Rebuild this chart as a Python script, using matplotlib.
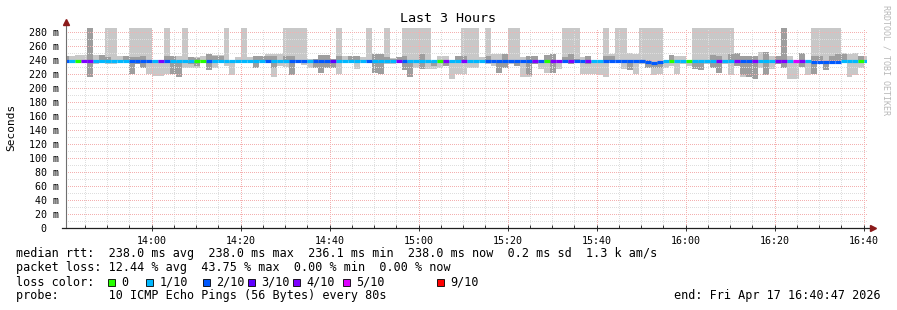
import numpy as np
import matplotlib.pyplot as plt
from matplotlib.patches import Rectangle

nan = np.nan
W, H = 897, 310

# one value per 80 s step, ms (300 = off the top)
light_hi = [244, 246, 247, 247, 247, 247, 247, 300, 300, 245,
            245, 300, 300, 300, 300, 239, 239, 300, 246, 246,
            300, 244, 244, 245, 246, 247, 247, 300, 239, 244,
            300, 244, 246, 246, 249, 249, 249, 300, 300, 300,
            300, 242, 242, 247, 247, 242, 300, 246, 246, 246,
            244, 300, 249, 248, 300, 243, 244, 300, 300, 300,
            300, 300, 238, 246, 246, 239, 246, 300, 300, 300,
            244, 300, 248, 248, 249, 300, 300, 244, 246, 246,
            239, 247, 249, 238, 300, 300, 300, 244, 246, 239,
            239, 300, 248, 300, 300, 250, 249, 300, 300, 300,
            300, 239, 247, 246, 245, 239, 300, 300, 300, 300,
            300, 300, 300, 250, 246, 245, 245, 252, 252, 245,
            246, 300, 246, 239, 250, 239, 300, 300, 300, 300,
            300, 250, 248, 250, 245, 245]
light_lo = [237, 235, 237, 237, 237, 234, 235, 234, 234, 239,
            238, 220, 234, 229, 220, 217, 217, 220, 220, 216,
            229, 229, 228, 239, 225, 229, 239, 232, 218, 235,
            239, 239, 228, 238, 238, 216, 232, 230, 218, 239,
            233, 228, 229, 221, 229, 229, 220, 239, 239, 227,
            239, 239, 222, 220, 234, 234, 239, 225, 215, 229,
            227, 227, 227, 229, 232, 213, 220, 220, 229, 229,
            239, 234, 232, 222, 229, 234, 232, 215, 215, 234,
            227, 222, 222, 227, 236, 234, 239, 220, 220, 220,
            218, 215, 239, 239, 227, 225, 220, 234, 229, 218,
            220, 229, 232, 220, 234, 232, 227, 225, 234, 229,
            222, 234, 218, 232, 216, 215, 213, 229, 219, 227,
            234, 229, 213, 213, 230, 218, 220, 239, 226, 234,
            239, 239, 215, 218, 229, 238]
dark_hi = [245, nan, nan, nan, 300, nan, 247, 244, nan, nan,
           245, 244, 244, 246, nan, nan, nan, 246, 246, 239,
           nan, 244, 243, nan, 248, 246, 246, nan, nan, nan,
           nan, nan, 246, 246, 246, 246, nan, 246, 246, nan,
           nan, nan, 242, 247, 247, 242, 246, nan, 246, 246,
           nan, nan, 249, 248, 244, 241, 244, 245, 239, nan,
           248, nan, 238, nan, 240, nan, 246, 246, nan, nan,
           nan, 246, nan, 240, 249, nan, 239, nan, 246, 246,
           nan, 247, 249, nan, 244, 248, 242, nan, 246, nan,
           nan, 246, 245, nan, nan, 240, nan, 240, 240, 237,
           237, nan, 247, nan, nan, nan, 239, 239, nan, 247,
           246, nan, 248, 250, 246, 245, 245, nan, 252, nan,
           246, 300, nan, nan, 250, nan, 246, 245, 239, 246,
           248, 248, nan, nan, 245, nan]
dark_lo = [237, nan, nan, nan, 216, nan, 235, 237, nan, nan,
           239, 220, 234, 229, nan, nan, nan, 239, 220, 216,
           nan, 234, 232, nan, 225, 239, 240, nan, nan, nan,
           nan, nan, 228, 239, 238, 229, nan, 239, 218, nan,
           nan, nan, 229, 221, 229, 229, 239, nan, 239, 239,
           nan, nan, 222, 220, 239, 239, 239, 225, 215, nan,
           227, nan, 232, nan, 232, nan, 239, 239, nan, nan,
           nan, 239, nan, 222, 229, nan, 232, nan, 218, 234,
           nan, 239, 222, nan, 239, 234, 239, nan, 234, nan,
           nan, 239, 239, nan, nan, 225, nan, 235, 229, 229,
           229, nan, 239, nan, nan, nan, 227, 225, nan, 229,
           222, nan, 239, 232, 218, 215, 213, nan, 219, nan,
           234, 229, nan, nan, 230, nan, 220, 239, 226, 239,
           239, 239, nan, nan, 239, nan]
median = [238, 238, 238, 238, 238, 238, 238, 238, 238, 238,
          238, 238, 238, 238, 238, 238, 238, 238, 238, 238,
          238, 238, 238, 238, 238, 238, 238, 238, 238, 238,
          238, 238, 238, 238, 238, 238, 238, 238, 238, 238,
          238, 238, 238, 238, 238, 238, 238, 238, 238, 238,
          238, 238, 238, 238, 238, 238, 238, 238, 238, 238,
          238, 238, 238, 238, 238, 238, 238, 238, 238, 238,
          238, 238, 238, 238, 238, 238, 238, 238, 238, 238,
          238, 238, 238, 238, 238, 238, 238, 238, 238, 238,
          238, 238, 238, 238, 238, 238, 238, 238, 237.5, 236.1,
          237.5, 238, 238, 238, 238, 238, 238, 238, 238, 238,
          238, 238, 238, 238, 238, 238, 238, 238, 238, 238,
          238, 238, 238, 238, 238, 238, 237.5, 237.5, 237.5, 237.5,
          237.5, 238, 238, 238, 238, 238]
# index into loss_labels
loss = [2, 1, 0, 4, 4, 1, 1, 1, 1, 1, 1, 2, 2, 2, 2, 1, 4, 2, 1, 1,
        1, 1, 0, 0, 2, 1, 1, 1, 1, 1, 1, 1, 1, 1, 2, 1, 1, 1, 2, 2,
        2, 1, 2, 2, 2, 3, 1, 1, 1, 1, 1, 2, 1, 1, 1, 1, 4, 2, 1, 1,
        1, 1, 1, 0, 4, 1, 1, 4, 1, 1, 1, 2, 2, 2, 2, 2, 2, 2, 2, 4,
        2, 0, 4, 4, 2, 4, 2, 2, 4, 1, 1, 2, 2, 2, 2, 2, 2, 2, 2, 2,
        2, 1, 0, 1, 1, 0, 1, 1, 1, 1, 4, 1, 1, 4, 2, 2, 4, 1, 1, 1,
        4, 4, 1, 5, 4, 1, 2, 2, 2, 2, 2, 1, 1, 1, 0, 1]

loss_labels = ['0', '1/10', '2/10', '3/10', '4/10', '5/10', '9/10']
loss_colors = ['#26ff00', '#00b8ff', '#0059ff', '#5e00ff', '#7e00ff', '#dd00ff', '#ff0000']

start = '13:40:47'
step_min = 80 / 60
first_step = -36 / 60  # first step begins before the left edge
x_labels = ['14:00', '14:20', '14:40', '15:00', '15:20', '15:40', '16:00', '16:20', '16:40']


def minutes(s):
    p = [int(v) for v in s.split(':')] + [0]
    return p[0] * 60 + p[1] + p[2] / 60


t0 = minutes(start)
x = first_step + step_min * np.arange(len(light_hi))

fig = plt.figure(figsize=(W / 100, H / 100), dpi=100)
ax = fig.add_axes([66 / W, 1 - 228 / H, 801 / W, 200 / H])
ax.set_xlim(0, 180)
ax.set_ylim(0, 200 / 0.7)

lh, ll = np.array(light_hi, float), np.array(light_lo, float)
dh, dl = np.array(dark_hi, float), np.array(dark_lo, float)
ax.bar(x, lh - ll, bottom=ll, width=step_min, align='edge', color='#c8c8c8',
       linewidth=0, antialiased=False, zorder=1)
m = np.isfinite(dh)
ax.bar(x[m], dh[m] - dl[m], bottom=dl[m], width=step_min, align='edge',
       color='#9e9e9e', linewidth=0, antialiased=False, zorder=1.1)

lc = ax.hlines(median, x, x + step_min, colors=[loss_colors[i] for i in loss],
               linewidth=2.3, zorder=4)
lc.set_capstyle('butt')

# grid
major_x = [minutes(s) - t0 for s in x_labels]
minor_x = [v for v in np.arange(major_x[0] - 15, 181, 5) if 0 <= v <= 180]
ax.set_xticks(major_x)
ax.set_xticks(minor_x, minor=True)
ax.set_xticklabels(x_labels)
ax.set_yticks(range(0, 281, 20))
ax.set_yticks(range(0, 286, 10), minor=True)
ax.set_yticklabels(['0  '] + [f'{v} m' for v in range(20, 281, 20)])
ax.set_axisbelow(False)
ax.grid(which='minor', color='#dedede', linestyle=(0, (1, 2)), linewidth=0.72,
        antialiased=False)
ax.grid(which='major', color='#f4b0b0', linestyle=(0, (1, 2)), linewidth=0.72,
        antialiased=False)
ax.tick_params(which='both', color='#303030', width=0.7,
               labelsize=7.2, labelfontfamily='DejaVu Sans Mono')
ax.tick_params(axis='y', which='both', length=0, pad=5)
ax.tick_params(axis='x', which='major', direction='inout', length=4, pad=4)
ax.tick_params(axis='x', which='minor', direction='in', length=2)
for s in ax.spines.values():
    s.set_visible(False)

# axes with arrows
ax.plot([0, 0], [0, 1.03], transform=ax.transAxes, clip_on=False,
        color='#707070', lw=0.8, zorder=5)
ax.plot([-0.005, 1.008], [0, 0], transform=ax.transAxes, clip_on=False,
        color='#202020', lw=0.9, zorder=5)
ax.plot([0], [1.03], marker='^', ms=4, color='#8b1a1a', transform=ax.transAxes,
        clip_on=False, zorder=6)
ax.plot([1.008], [0], marker='>', ms=4, color='#8b1a1a', transform=ax.transAxes,
        clip_on=False, zorder=6)

mono = 'DejaVu Sans Mono'
fig.text(448 / W, 1 - 19 / H, 'Last 3 Hours', ha='center', va='center',
         family=mono, fontsize=9.6)
fig.text(11 / W, 1 - 127 / H, 'Seconds', rotation=90, ha='center', va='center',
         family=mono, fontsize=8)
fig.text(886 / W, 1 - 60 / H, 'RRDTOOL / TOBI OETIKER', rotation=270,
         ha='center', va='center', family=mono, fontsize=6, color='#b8b8b8')

fs = 8.5
fig.text(16 / W, 1 - 254 / H,
         'median rtt:  238.0 ms avg  238.0 ms max  236.1 ms min  238.0 ms now  0.2 ms sd  1.3 k am/s',
         va='center', family=mono, fontsize=fs)
fig.text(16 / W, 1 - 268 / H,
         'packet loss: 12.44 % avg  43.75 % max  0.00 % min  0.00 % now',
         va='center', family=mono, fontsize=fs)
fig.text(16 / W, 1 - 282 / H, 'loss color:', va='center', family=mono, fontsize=fs)
box_x = [108, 146, 203, 248, 293, 343, 437]
for bx, lab, col in zip(box_x, loss_labels, loss_colors):
    fig.patches.append(Rectangle((bx / W, 1 - 286 / H), 7 / W, 7 / H,
                                 transform=fig.transFigure, facecolor=col,
                                 edgecolor='black', linewidth=0.6))
    fig.text((bx + 13.5) / W, 1 - 282 / H, lab, va='center', family=mono, fontsize=fs)
fig.text(16 / W, 1 - 296 / H, 'probe:       10 ICMP Echo Pings (56 Bytes) every 80s',
         va='center', family=mono, fontsize=fs)
fig.text(881 / W, 1 - 296 / H, 'end: Fri Apr 17 16:40:47 2026', ha='right',
         va='center', family=mono, fontsize=fs)

fig.savefig('out.png', dpi=100)
